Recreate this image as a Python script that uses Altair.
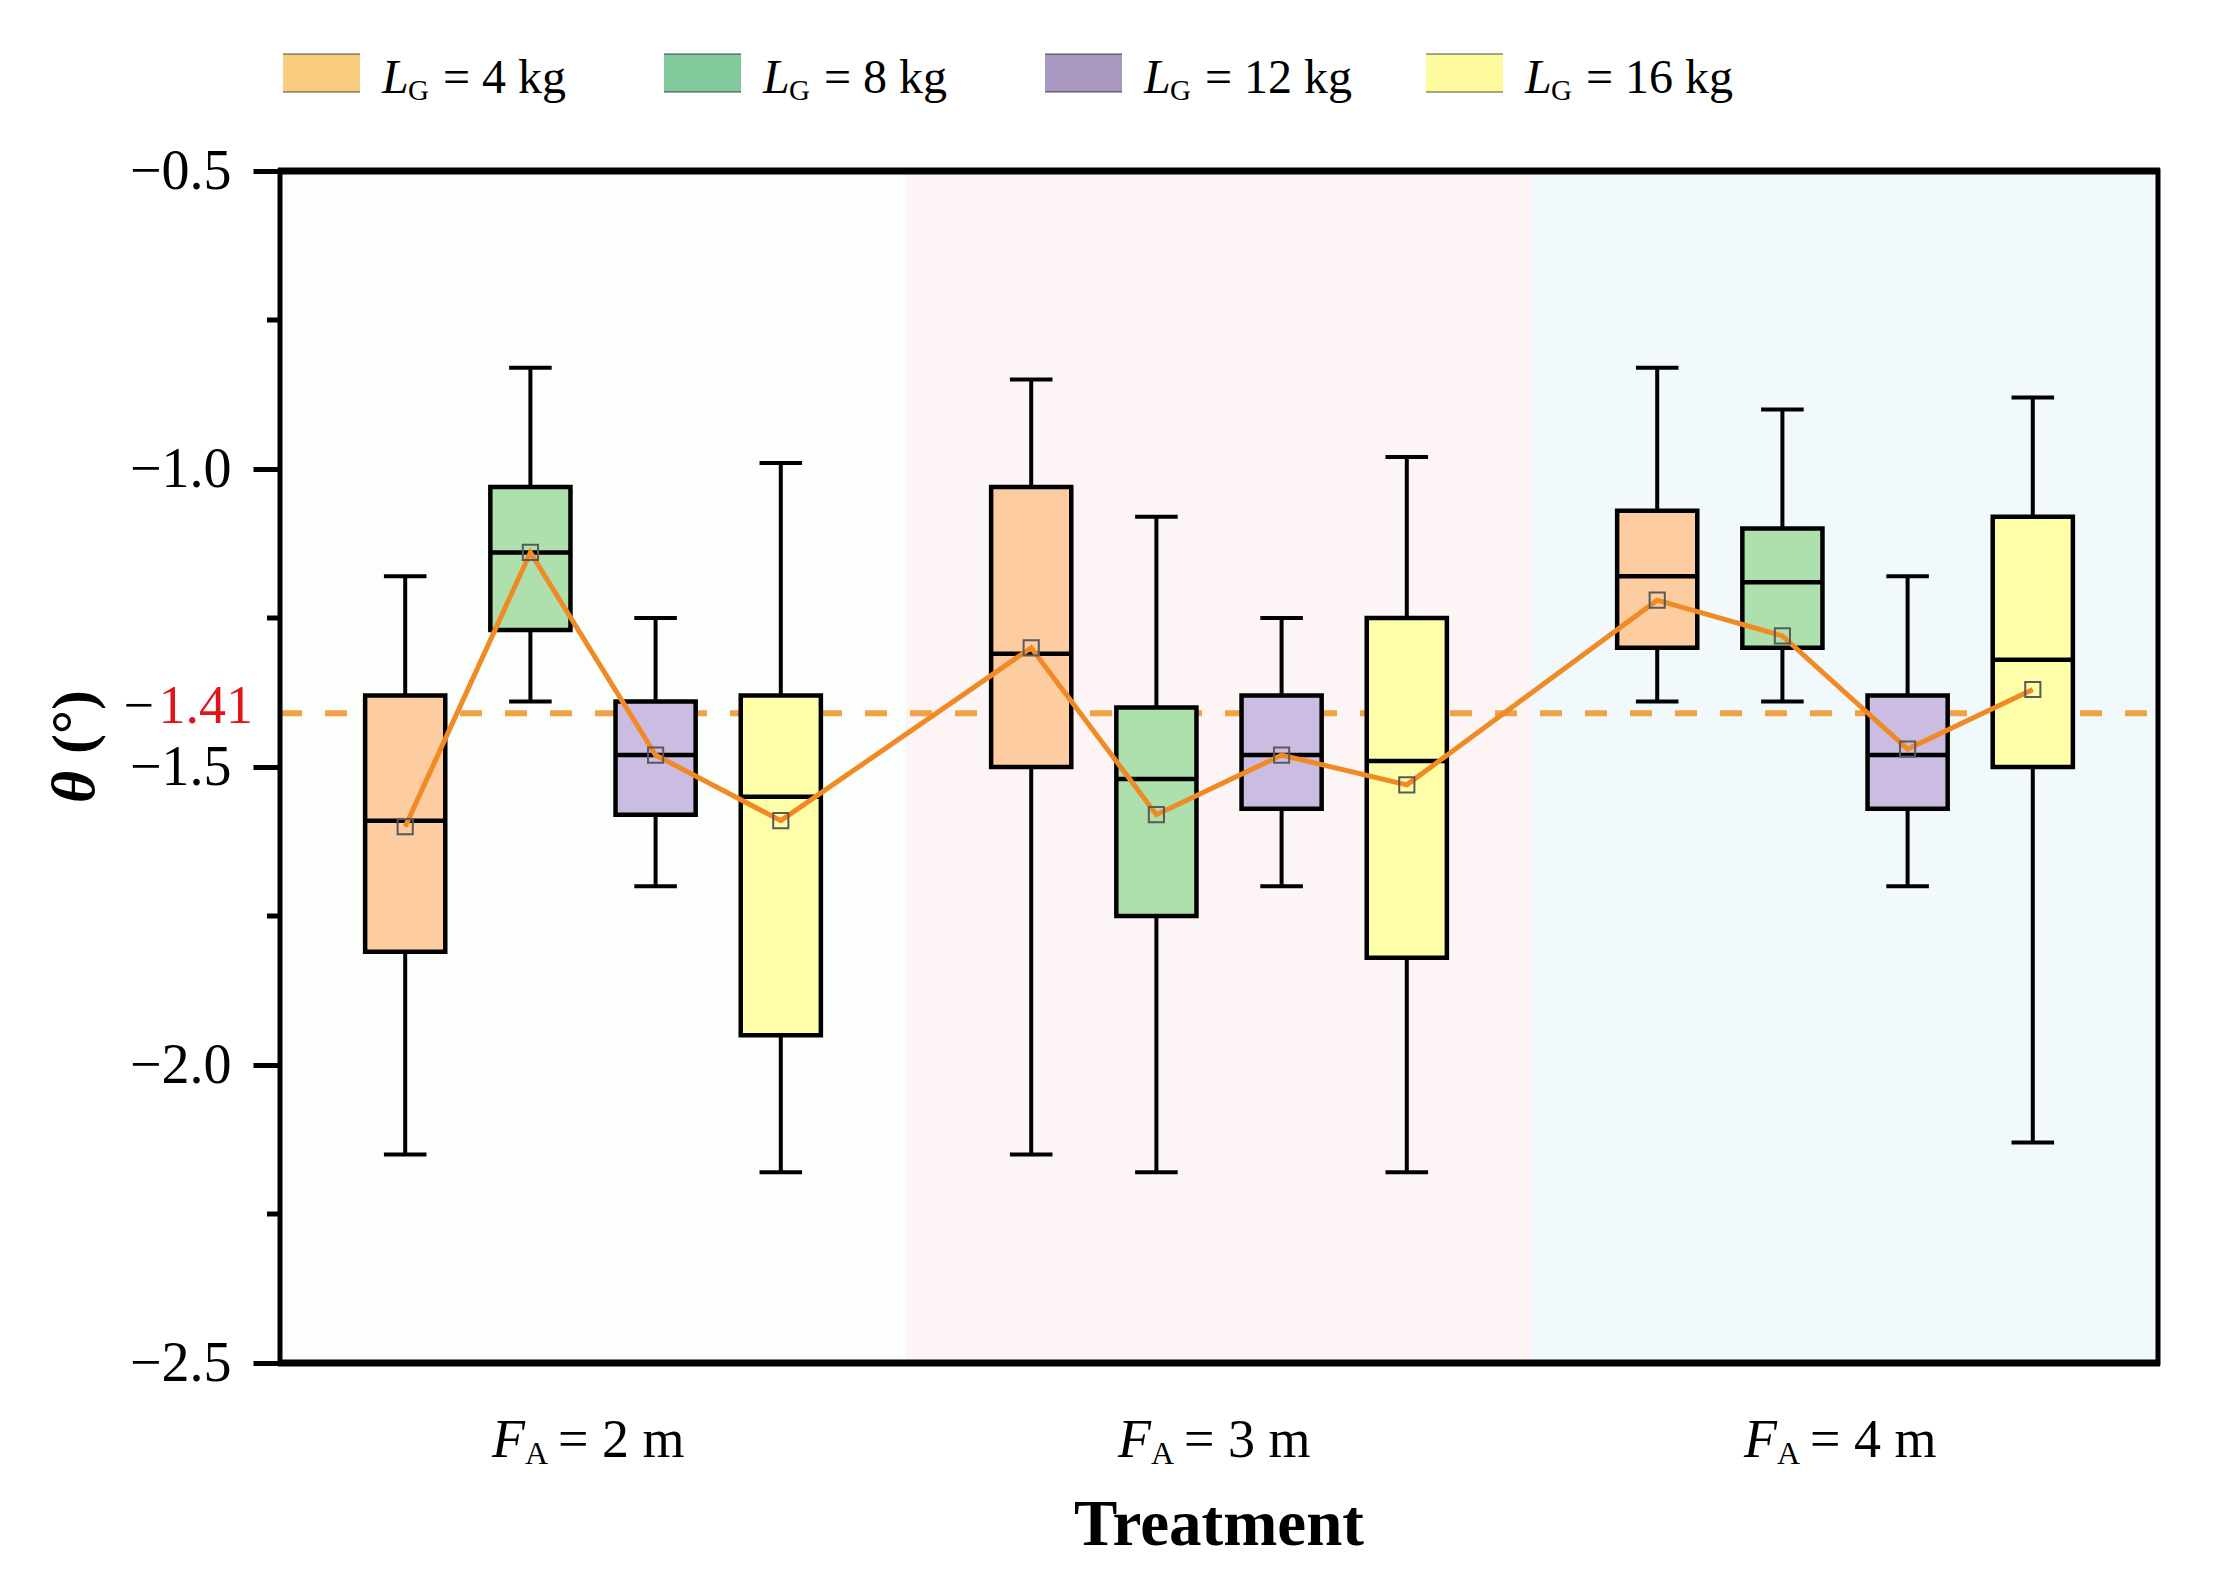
import altair as alt
import pandas as pd

# ---------------- data ----------------
groups = ["2 m", "3 m", "4 m"]                     # F_A treatments
loads = ["4 kg", "8 kg", "12 kg", "16 kg"]         # L_G levels

# order: group-major (2 m: 4,8,12,16 kg; 3 m: ...; 4 m: ...)
whisker_high = [-1.18, -0.83, -1.25, -0.99,
                -0.85, -1.08, -1.25, -0.98,
                -0.83, -0.90, -1.18, -0.88]
q3 = [-1.38, -1.03, -1.39, -1.38,
      -1.03, -1.40, -1.38, -1.25,
      -1.07, -1.10, -1.38, -1.08]
median = [-1.59, -1.14, -1.48, -1.55,
          -1.31, -1.52, -1.48, -1.49,
          -1.18, -1.19, -1.48, -1.32]
mean = [-1.60, -1.14, -1.48, -1.59,
        -1.30, -1.58, -1.48, -1.53,
        -1.22, -1.28, -1.47, -1.37]
q1 = [-1.81, -1.27, -1.58, -1.95,
      -1.50, -1.75, -1.57, -1.82,
      -1.30, -1.30, -1.57, -1.50]
whisker_low = [-2.15, -1.39, -1.70, -2.18,
               -2.15, -2.18, -1.70, -2.18,
               -1.39, -1.39, -1.70, -2.13]
reference_value = -1.41
major_ticks = [-2.5, -2.0, -1.5, -1.0, -0.5]
minor_ticks = [-2.25, -1.75, -1.25, -0.75]

# ---------------- styling / layout ----------------
box_fill = ["#fdcca0", "#aee0ae", "#cbbde1", "#fefda8"]
legend_fill = ["#f8cd7e", "#82c99c", "#a898bf", "#fdfb9e"]
band_fill = ["#fcfefb", "#fdf5f5", "#f2f9fc"]
FONT = "Liberation Serif"
W, H = 1878, 1192
OFFSETS = [-0.3, -0.1, 0.1, 0.3]
BOX_HALF = 0.064
CAP_HALF = 0.034
LEG_X0, LEG_STEP = 3, 381

rows = []
for gi, g in enumerate(groups):
    for li, l in enumerate(loads):
        i = gi * len(loads) + li
        p = gi + 0.5 + OFFSETS[li]
        rows.append(dict(idx=i, group=g, load=l, pos=p,
                         bx0=p - BOX_HALF, bx1=p + BOX_HALF,
                         cx0=p - CAP_HALF, cx1=p + CAP_HALF,
                         lo=whisker_low[i], q1=q1[i], med=median[i],
                         mean=mean[i], q3=q3[i], hi=whisker_high[i],
                         fill=box_fill[li]))
boxes = pd.DataFrame(rows)

bands = pd.DataFrame(dict(x0=[i for i in range(len(groups))],
                          x1=[i + 1 for i in range(len(groups))],
                          fill=band_fill,
                          center=[i + 0.5 for i in range(len(groups))],
                          label=["= " + g for g in groups]))

legend = pd.DataFrame(dict(
    text=["= " + l for l in loads],
    fill=legend_fill,
    sx0=[LEG_X0 + i * LEG_STEP for i in range(len(loads))],
))
legend["sx1"] = legend["sx0"] + 77
legend["lx"] = legend["sx0"] + 99
legend["gx"] = legend["sx0"] + 125
legend["tx"] = legend["sx0"] + 160
legend["top"] = -117
legend["bot"] = -79
legend["base"] = -78
legend["subbase"] = -71

xscale = alt.Scale(domain=[0, 3], nice=False, zero=False)
yscale = alt.Scale(domain=[-2.5, -0.5], nice=False, zero=False)
yaxis = alt.Axis(values=major_ticks, format=".1f", tickSize=27, tickWidth=5,
                 tickColor="black", domain=False, grid=False,
                 labelFont=FONT, labelFontSize=56, labelColor="black",
                 labelPadding=22, labelOverlap=False, title=None)


def X(f):
    return alt.X(f, type="quantitative", scale=xscale, axis=None)


def Y(f):
    return alt.Y(f, type="quantitative", scale=yscale, axis=yaxis)


base = alt.Chart(boxes)

band_layer = alt.Chart(bands).mark_rect().encode(
    x=X("x0"), x2="x1", y=alt.value(0), y2=alt.value(H),
    color=alt.Color("fill:N", scale=None))

ref_layer = alt.Chart(pd.DataFrame({"v": [reference_value]})).mark_rule(
    color="#f0a244", strokeWidth=6, strokeDash=[22, 23]).encode(
    y=Y("v"), x=alt.value(0), x2=alt.value(W))

minor_layer = alt.Chart(pd.DataFrame({"v": minor_ticks})).mark_rule(
    color="black", strokeWidth=5).encode(
    y=Y("v"), x=alt.value(-13), x2=alt.value(0))

whisk = base.mark_rule(color="black", strokeWidth=4).encode(
    x=X("pos"), y=Y("lo"), y2="hi")

box_layer = base.mark_rect(stroke="black", strokeWidth=4.5).encode(
    x=X("bx0"), x2="bx1", y=Y("q1"), y2="q3",
    color=alt.Color("fill:N", scale=None))

med_layer = base.mark_rule(color="black", strokeWidth=4.5).encode(
    x=X("bx0"), x2="bx1", y=Y("med"))

cap_hi = base.mark_rule(color="black", strokeWidth=4).encode(
    x=X("cx0"), x2="cx1", y=Y("hi"))
cap_lo = base.mark_rule(color="black", strokeWidth=4).encode(
    x=X("cx0"), x2="cx1", y=Y("lo"))

mean_line = base.mark_line(color="#f08a24", strokeWidth=5).encode(
    x=X("pos"), y=Y("mean"), order=alt.Order("idx:Q"))

mean_pts = base.mark_point(shape="square", size=230, filled=False,
                           stroke="#5a5a5a", strokeWidth=2, opacity=1).encode(
    x=X("pos"), y=Y("mean"))

frame = alt.Chart(pd.DataFrame({"a": [0]})).mark_rect(
    filled=False, stroke="black", strokeWidth=5).encode(
    x=alt.value(0), x2=alt.value(W), y=alt.value(0), y2=alt.value(H))
frame_tb = alt.Chart(pd.DataFrame({"v": [-2.5, -0.5]})).mark_rule(
    color="black", strokeWidth=7).encode(
    y=Y("v"), x=alt.value(-2), x2=alt.value(W + 2))

# red reference label on the y axis
ref_df = pd.DataFrame({"v": [reference_value], "t": ["1.41"], "m": ["−"]})
ref_num = alt.Chart(ref_df).mark_text(
    align="right", baseline="middle", dx=-27, dy=-6, font=FONT, fontSize=54,
    color="#e0151b").encode(x=alt.value(0), y=Y("v"), text="t:N")
ref_minus = alt.Chart(ref_df).mark_text(
    align="right", baseline="middle", dx=-126, dy=-6, font=FONT, fontSize=54,
    color="black").encode(x=alt.value(0), y=Y("v"), text="m:N")

# x category labels  F_A = 2 m
lab_f = alt.Chart(bands).mark_text(
    text="F", align="left", baseline="alphabetic", dx=-101, font=FONT,
    fontSize=54, fontStyle="italic", color="black").encode(
    x=X("center"), y=alt.value(H + 94))
lab_a = alt.Chart(bands).mark_text(
    text="A", align="left", baseline="alphabetic", dx=-68, font=FONT,
    fontSize=32, color="black").encode(
    x=X("center"), y=alt.value(H + 101))
lab_rest = alt.Chart(bands).mark_text(
    align="left", baseline="alphabetic", dx=-35, font=FONT,
    fontSize=54, color="black").encode(
    x=X("center"), y=alt.value(H + 94), text="label:N")

x_title = alt.Chart(pd.DataFrame({"t": ["Treatment"]})).mark_text(
    align="center", baseline="alphabetic", font=FONT, fontSize=65,
    fontWeight="bold", color="black").encode(
    x=alt.value(W / 2), y=alt.value(H + 182), text="t:N")

y_theta = alt.Chart(pd.DataFrame({"t": ["θ"]})).mark_text(
    angle=270, align="center", baseline="middle", font=FONT, fontSize=62,
    fontWeight="bold", fontStyle="italic", color="black").encode(
    x=alt.value(-205), y=alt.value(616), text="t:N")
y_unit = alt.Chart(pd.DataFrame({"t": ["(°)"]})).mark_text(
    angle=270, align="center", baseline="middle", font=FONT, fontSize=60,
    fontWeight="bold", color="black").encode(
    x=alt.value(-205), y=alt.value(551), text="t:N")

# custom legend  L_G = 4 kg
leg = alt.Chart(legend)
leg_sw = leg.mark_rect().encode(
    x=alt.X("sx0:Q", scale=None), x2="sx1",
    y=alt.Y("top:Q", scale=None), y2="bot",
    color=alt.Color("fill:N", scale=None))
leg_top = leg.mark_rule(color="black", opacity=0.35, strokeWidth=2).encode(
    x=alt.X("sx0:Q", scale=None), x2="sx1", y=alt.Y("top:Q", scale=None))
leg_bot = leg.mark_rule(color="black", opacity=0.35, strokeWidth=2).encode(
    x=alt.X("sx0:Q", scale=None), x2="sx1", y=alt.Y("bot:Q", scale=None))
leg_l = leg.mark_text(text="L", align="left", baseline="alphabetic",
                      font=FONT, fontSize=48, fontStyle="italic",
                      color="black").encode(
    x=alt.X("lx:Q", scale=None), y=alt.Y("base:Q", scale=None))
leg_g = leg.mark_text(text="G", align="left", baseline="alphabetic",
                      font=FONT, fontSize=29, color="black").encode(
    x=alt.X("gx:Q", scale=None), y=alt.Y("subbase:Q", scale=None))
leg_t = leg.mark_text(align="left", baseline="alphabetic",
                      font=FONT, fontSize=48, color="black").encode(
    x=alt.X("tx:Q", scale=None), y=alt.Y("base:Q", scale=None),
    text="text:N")

chart = alt.layer(
    band_layer, ref_layer, minor_layer, whisk, box_layer, med_layer,
    cap_hi, cap_lo, mean_line, mean_pts, frame, frame_tb,
    ref_num, ref_minus, lab_f, lab_a, lab_rest, x_title, y_theta, y_unit,
    leg_sw, leg_top, leg_bot, leg_l, leg_g, leg_t,
).properties(
    width=W, height=H,
    autosize=alt.AutoSizeParams(type="none"),
    padding={"left": 272, "top": 163, "right": 60, "bottom": 220},
).configure(font=FONT).configure_view(stroke=None)

chart.save("out.html", embed_options={"renderer": "svg", "actions": False})
